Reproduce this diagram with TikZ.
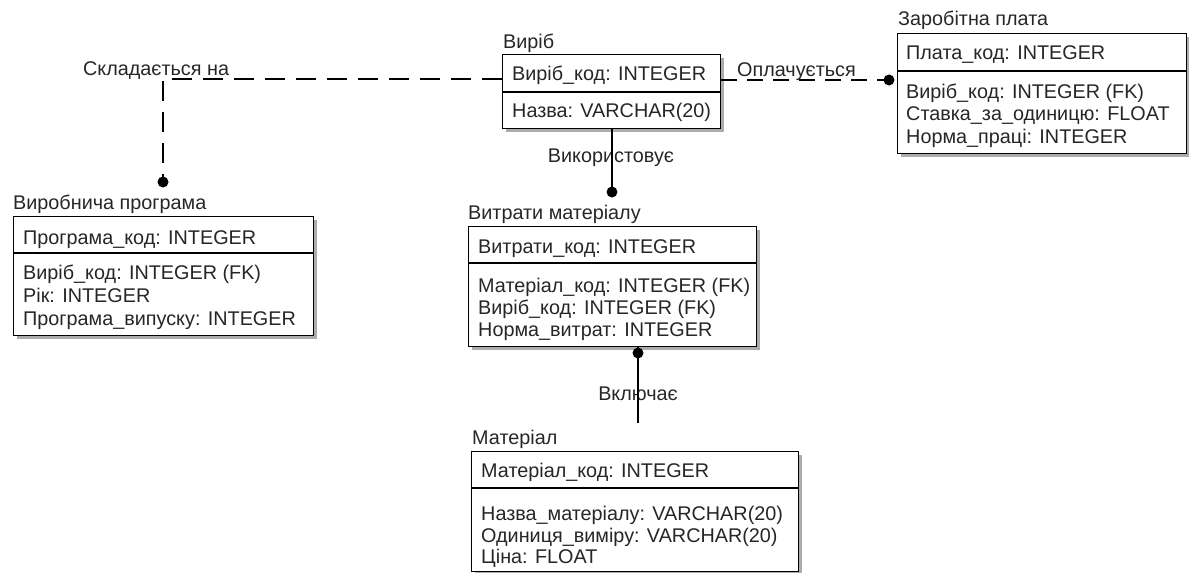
\documentclass[tikz,border=0pt]{standalone}
\usepackage{fontspec}
\setmainfont{Liberation Sans}
\usetikzlibrary{shadows}
\begin{document}
\begin{tikzpicture}[x=1pt,y=-1pt,
  every node/.style={font=\fontsize{19.8}{22}\selectfont, inner sep=0pt, text height=14pt, text depth=0pt, text=black!85},
  ent/.style={draw=black, line width=1.2pt, fill=white, anchor=north west, text height=, text depth=,
    drop shadow={shadow xshift=3.5pt, shadow yshift=-3.5pt, fill=gray!65, opacity=1}},
  txt/.style={anchor=west},
  divline/.style={line width=1.2pt},
  rel/.style={line width=1.3pt},
  reldash/.style={line width=1.3pt, dash pattern=on 20pt off 11pt},
  dotmark/.style={fill=black}
]
\useasboundingbox (0,0) rectangle (1189,573);

% ---- Виріб
\node[txt] (vt) at (503,41) {Виріб};
\node[ent, minimum width=218pt, minimum height=74pt] (V) at (502,54) {};
\draw[divline] (V.west |- 0,92) -- (V.east |- 0,92);
\node[txt] (v1) at (512,73) {Виріб\_код: INTEGER};
\node[txt] (v2) at (512,110) {Назва: VARCHAR(20)};

% ---- Заробітна плата
\node[txt] (zt) at (898,18) {Заробітна плата};
\node[ent, minimum width=289pt, minimum height=120pt] (Z) at (897,33) {};
\draw[divline] (Z.west |- 0,71) -- (Z.east |- 0,71);
\node[txt] (z1) at (906,52) {Плата\_код: INTEGER};
\node[txt] (z2) at (906,91) {Виріб\_код: INTEGER (FK)};
\node[txt] (z3) at (906,113) {Ставка\_за\_одиницю: FLOAT};
\node[txt] (z4) at (906,136) {Норма\_праці: INTEGER};

% ---- Виробнича програма
\node[txt] (pt) at (13,202) {Виробнича програма};
\node[ent, minimum width=300pt, minimum height=119pt] (P) at (13,216) {};
\draw[divline] (P.west |- 0,253) -- (P.east |- 0,253);
\node[txt] (p1) at (23,237) {Програма\_код: INTEGER};
\node[txt] (p2) at (23,272) {Виріб\_код: INTEGER (FK)};
\node[txt] (p3) at (23,295) {Рік: INTEGER};
\node[txt] (p4) at (23,318) {Програма\_випуску: INTEGER};

% ---- Витрати матеріалу
\node[txt] (wt) at (468,212) {Витрати матеріалу};
\node[ent, minimum width=288pt, minimum height=120pt] (W) at (468,226) {};
\draw[divline] (W.west |- 0,263) -- (W.east |- 0,263);
\node[txt] (w1) at (478,246) {Витрати\_код: INTEGER};
\node[txt] (w2) at (478,285) {Матеріал\_код: INTEGER (FK)};
\node[txt] (w3) at (478,307) {Виріб\_код: INTEGER (FK)};
\node[txt] (w4) at (478,329) {Норма\_витрат: INTEGER};

% ---- Матеріал
\node[txt] (mt) at (472,437) {Матеріал};
\node[ent, minimum width=327pt, minimum height=120pt] (M) at (471,451) {};
\draw[divline] (M.west |- 0,488) -- (M.east |- 0,488);
\node[txt] (m1) at (481,470) {Матеріал\_код: INTEGER};
\node[txt] (m2) at (481,513) {Назва\_матеріалу: VARCHAR(20)};
\node[txt] (m3) at (481,535) {Одиниця\_виміру: VARCHAR(20)};
\node[txt] (m4) at (481,556) {Ціна: FLOAT};

% ---- Складається на
\coordinate (sc) at (163,79);
\coordinate (pdot) at (163,182);
\draw[reldash] (V.west |- sc) -- (sc) -- (pdot);
\fill[dotmark] (pdot) circle (5.5);
\node[txt] (ls) at (83,68) {Складається на};

% ---- Оплачується
\coordinate (zdot) at (889,80);
\draw[line width=1.3pt, dash pattern=on 16pt off 10pt] (V.east |- zdot) -- (Z.west |- zdot);
\fill[dotmark] (zdot) circle (5.5);
\node[txt] (lo) at (737,69) {Оплачується};

% ---- Використовує
\coordinate (wdot) at (612,192);
\node (lv) at (611,155) {Використовує};
\draw[rel] (V.south -| wdot) -- (wdot);
\fill[dotmark] (wdot) circle (5.5);

% ---- Включає
\coordinate (mdot) at (638,353);
\coordinate (mend) at (638,423);
\node (lm) at (638,393) {Включає};
\draw[rel] (W.south -| mdot) -- (mend);
\fill[dotmark] (mdot) circle (5.5);
\end{tikzpicture}
\end{document}
